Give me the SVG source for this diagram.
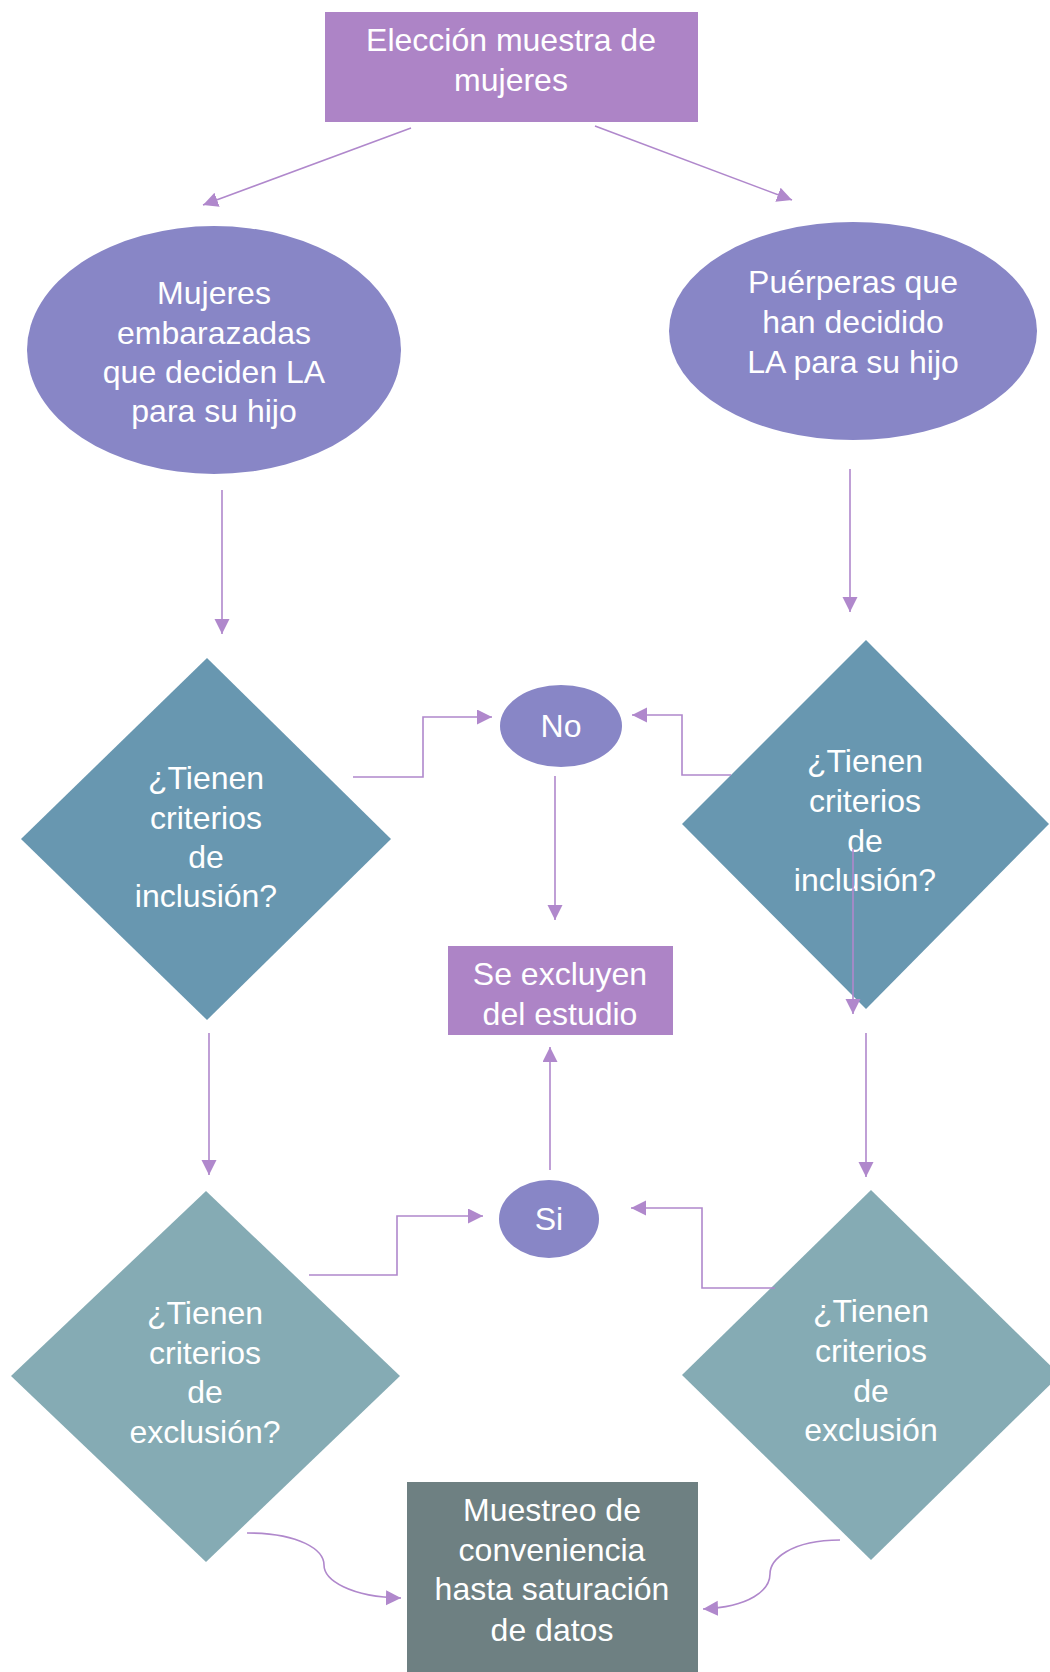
<svg xmlns="http://www.w3.org/2000/svg" width="1050" height="1672" viewBox="0 0 1050 1672">
<defs>
<style>
.t{font-family:"Liberation Sans",Arial,sans-serif;font-size:32px;fill:#ffffff;text-anchor:middle;}
.c{fill:none;stroke:#B088CC;stroke-width:1.6;}
.pbox{fill:#AD84C6;}
.ell{fill:#8886C6;}
.d1{fill:#6897B0;}
.d2{fill:#85ABB4;}
.gbox{fill:#6E8082;}
</style>
<marker id="ah" markerUnits="userSpaceOnUse" markerWidth="16" markerHeight="16" refX="15" refY="7.5" orient="auto">
<path d="M0,0 L15,7.5 L0,15 z" fill="#B088CC"/>
</marker>
<clipPath id="qclip"><rect x="840" y="1440" width="60" height="18"/></clipPath>
</defs>
<rect width="1050" height="1672" fill="#ffffff"/>

<g id="n-eleccion">
<rect class="pbox" x="325" y="12" width="373" height="110"/>
<text class="t" x="511" y="51">Elección muestra de</text>
<text class="t" x="511" y="91">mujeres</text>
</g>

<g id="n-embarazadas">
<ellipse class="ell" cx="214" cy="350" rx="187" ry="124"/>
<text class="t" x="214" y="304">Mujeres</text>
<text class="t" x="214" y="344">embarazadas</text>
<text class="t" x="214" y="383">que deciden LA</text>
<text class="t" x="214" y="422">para su hijo</text>
</g>

<g id="n-puerperas">
<ellipse class="ell" cx="853" cy="331" rx="184" ry="109"/>
<text class="t" x="853" y="293">Puérperas que</text>
<text class="t" x="853" y="333">han decidido</text>
<text class="t" x="853" y="373">LA para su hijo</text>
</g>

<g id="n-inclusion-izq">
<polygon class="d1" points="207,658 391,839 207,1020 21,839"/>
<text class="t" x="206" y="789">¿Tienen</text>
<text class="t" x="206" y="829">criterios</text>
<text class="t" x="206" y="868">de</text>
<text class="t" x="206" y="907">inclusión?</text>
</g>

<g id="n-inclusion-der">
<polygon class="d1" points="866,640 1049,824 866,1009 682,824"/>
<text class="t" x="865" y="772">¿Tienen</text>
<text class="t" x="865" y="812">criterios</text>
<text class="t" x="865" y="852">de</text>
<text class="t" x="865" y="891">inclusión?</text>
</g>

<g id="n-no">
<ellipse class="ell" cx="561" cy="726" rx="61" ry="41"/>
<text class="t" x="561" y="737">No</text>
</g>

<g id="n-excluyen">
<rect class="pbox" x="448" y="946" width="225" height="89"/>
<text class="t" x="560" y="985">Se excluyen</text>
<text class="t" x="560" y="1025">del estudio</text>
</g>

<g id="n-si">
<ellipse class="ell" cx="549" cy="1219" rx="50" ry="39"/>
<text class="t" x="549" y="1230">Si</text>
</g>

<g id="n-exclusion-izq">
<polygon class="d2" points="206,1191 400,1376 206,1562 11,1376"/>
<text class="t" x="205" y="1324">¿Tienen</text>
<text class="t" x="205" y="1364">criterios</text>
<text class="t" x="205" y="1403">de</text>
<text class="t" x="205" y="1443">exclusión?</text>
</g>

<g id="n-exclusion-der">
<polygon class="d2" points="871,1190 1060,1375 871,1560 682,1375"/>
<text class="t" x="871" y="1322">¿Tienen</text>
<text class="t" x="871" y="1362">criterios</text>
<text class="t" x="871" y="1402">de</text>
<text class="t" x="871" y="1441">exclusión</text>
<text class="t" x="871" y="1480" clip-path="url(#qclip)">?</text>
</g>

<g id="n-muestreo">
<rect class="gbox" x="407" y="1482" width="291" height="190"/>
<text class="t" x="552" y="1521">Muestreo de</text>
<text class="t" x="552" y="1561">conveniencia</text>
<text class="t" x="552" y="1600">hasta saturación</text>
<text class="t" x="552" y="1641">de datos</text>
</g>

<g id="connectors">
<path class="c" marker-end="url(#ah)" d="M411,128 L203,205"/>
<path class="c" marker-end="url(#ah)" d="M595,126 L792,200"/>
<path class="c" marker-end="url(#ah)" d="M222,490 L222,634"/>
<path class="c" marker-end="url(#ah)" d="M850,469 L850,612"/>
<path class="c" marker-end="url(#ah)" d="M353,777 L423,777 L423,717 L492,717"/>
<path class="c" marker-end="url(#ah)" d="M731,775 L682,775 L682,715 L632,715"/>
<path class="c" marker-end="url(#ah)" d="M555,776 L555,920"/>
<path class="c" marker-end="url(#ah)" d="M853,849 L853,1014"/>
<path class="c" marker-end="url(#ah)" d="M209,1033 L209,1175"/>
<path class="c" marker-end="url(#ah)" d="M866,1033 L866,1177"/>
<path class="c" marker-end="url(#ah)" d="M550,1170 L550,1047"/>
<path class="c" marker-end="url(#ah)" d="M309,1275 L397,1275 L397,1216 L483,1216"/>
<path class="c" marker-end="url(#ah)" d="M775,1288 L702,1288 L702,1208 L631,1208"/>
<path class="c" marker-end="url(#ah)" d="M247,1533 C300,1533 324,1550 324,1565 C324,1580 350,1597 401,1598"/>
<path class="c" marker-end="url(#ah)" d="M840,1540 C790,1540 770,1560 770,1574 C770,1590 750,1607 703,1609"/>
</g>
</svg>
